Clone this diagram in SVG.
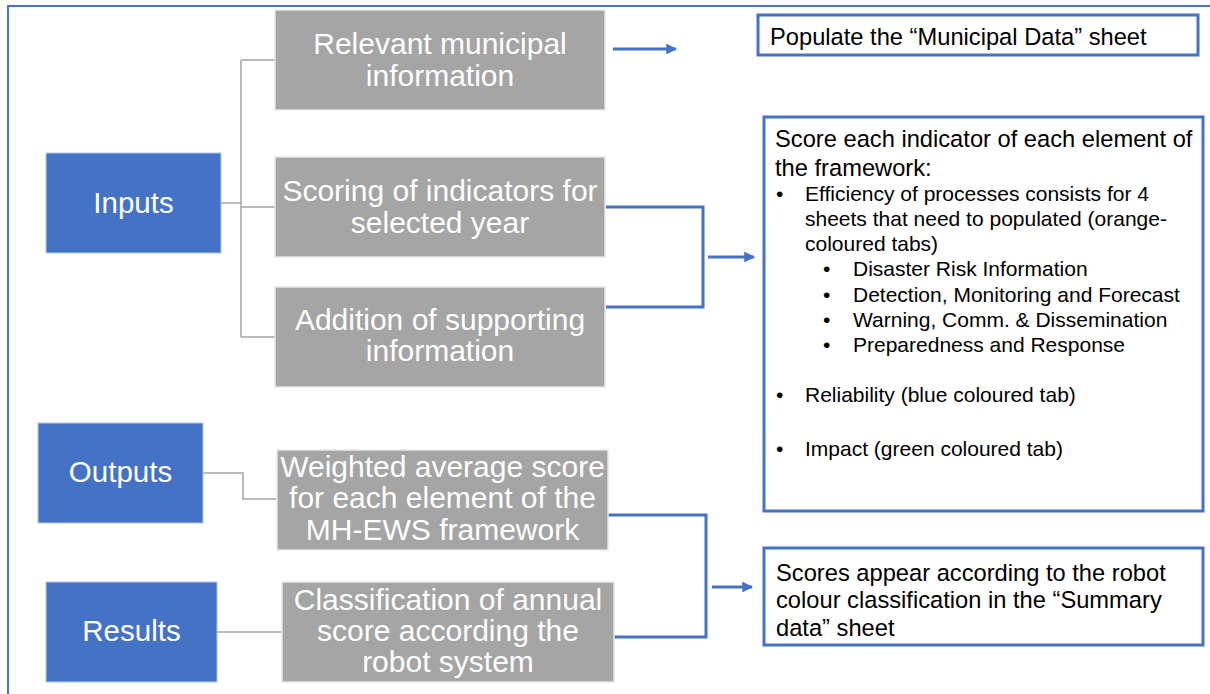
<svg xmlns="http://www.w3.org/2000/svg" width="1210" height="694" viewBox="0 0 1210 694">
<defs>
<style>
.blue{fill:#4472C4;stroke:#B4C7E7;stroke-width:1}
.gray{fill:#A5A5A5;stroke:#E7E6E6;stroke-width:1.5}
.wbox{fill:#FFFFFF;stroke:#4472C4;stroke-width:3}
.lbl{font-family:"Liberation Sans",Arial,sans-serif;fill:#FFFFFF;text-anchor:middle}
.big{font-size:29.5px}
.gt{font-size:30px}
.bt{font-family:"Liberation Sans",Arial,sans-serif;fill:#000000}
.h{font-size:23.7px}
.s{font-size:21px}
.gl{fill:none;stroke:#A5A5A5;stroke-width:1.5}
.bl{fill:none;stroke:#4472C4;stroke-width:3}
</style>
<marker id="ah" viewBox="0 0 10 10" refX="9" refY="5" markerWidth="4" markerHeight="3.6" orient="auto" markerUnits="strokeWidth">
<path d="M0,0 L10,5 L0,10 z" fill="#4472C4"/>
</marker>
</defs>
<rect width="1210" height="694" fill="#FFFFFF"/>
<rect id="frame" x="8" y="6" width="1230" height="720" fill="none" stroke="#4472C4" stroke-width="2"/>

<g id="connectors">
<path class="gl" d="M221,203 H241 M241,60 V337 M241,60 H275 M241,207 H275 M241,337 H275"/>
<path class="gl" d="M203,473 H243 V499 H277"/>
<path class="gl" d="M217,632 H282"/>
<path class="bl" d="M613,49 H676" marker-end="url(#ah)"/>
<path class="bl" d="M606,207 H703 V307 H606"/>
<path class="bl" d="M708,257 H754" marker-end="url(#ah)"/>
<path class="bl" d="M608,515 H706 V637 H614"/>
<path class="bl" d="M712,587 H752" marker-end="url(#ah)"/>
</g>

<g id="inputs">
<rect class="blue" x="46" y="153" width="175" height="100"/>
<text class="lbl big" x="133.5" y="213">Inputs</text>
</g>
<g id="outputs">
<rect class="blue" x="38" y="423" width="165" height="100"/>
<text class="lbl big" x="120.5" y="482">Outputs</text>
</g>
<g id="results">
<rect class="blue" x="46" y="582" width="171" height="100"/>
<text class="lbl big" x="131.5" y="641">Results</text>
</g>

<g id="municipal-info">
<rect class="gray" x="275" y="10" width="330" height="100"/>
<text class="lbl gt" x="440" y="54">Relevant municipal</text>
<text class="lbl gt" x="440" y="86">information</text>
</g>
<g id="scoring">
<rect class="gray" x="275" y="157" width="330" height="100"/>
<text class="lbl gt" x="440" y="201">Scoring of indicators for</text>
<text class="lbl gt" x="440" y="233">selected year</text>
</g>
<g id="supporting">
<rect class="gray" x="275" y="287" width="330" height="100"/>
<text class="lbl gt" x="440" y="330">Addition of supporting</text>
<text class="lbl gt" x="440" y="361">information</text>
</g>
<g id="weighted">
<rect class="gray" x="277" y="450" width="331" height="100"/>
<text class="lbl gt" x="442.5" y="477">Weighted average score</text>
<text class="lbl gt" x="442.5" y="508">for each element of the</text>
<text class="lbl gt" x="442.5" y="540">MH-EWS framework</text>
</g>
<g id="classification">
<rect class="gray" x="282" y="582" width="332" height="100"/>
<text class="lbl gt" x="448" y="610">Classification of annual</text>
<text class="lbl gt" x="448" y="641">score according the</text>
<text class="lbl gt" x="448" y="672">robot system</text>
</g>

<g id="populate">
<rect class="wbox" x="758" y="15" width="440" height="40"/>
<text class="bt h" x="770" y="44.5">Populate the “Municipal Data” sheet</text>
</g>

<g id="score-box">
<rect class="wbox" x="764" y="117" width="439" height="394"/>
<text class="bt h" x="775" y="146.5">Score each indicator of each element of</text>
<text class="bt h" x="775" y="175.5">the framework:</text>
<text class="bt s" x="776" y="200.5">•</text>
<text class="bt s" x="805" y="200.5">Efficiency of processes consists for 4</text>
<text class="bt s" x="805" y="225.5">sheets that need to populated (orange-</text>
<text class="bt s" x="805" y="250.5">coloured tabs)</text>
<text class="bt s" x="823" y="275.5">•</text>
<text class="bt s" x="853" y="275.5">Disaster Risk Information</text>
<text class="bt s" x="823" y="302">•</text>
<text class="bt s" x="853" y="302">Detection, Monitoring and Forecast</text>
<text class="bt s" x="823" y="327">•</text>
<text class="bt s" x="853" y="327">Warning, Comm. &amp; Dissemination</text>
<text class="bt s" x="823" y="352">•</text>
<text class="bt s" x="853" y="352">Preparedness and Response</text>
<text class="bt s" x="776" y="402">•</text>
<text class="bt s" x="805" y="402">Reliability (blue coloured tab)</text>
<text class="bt s" x="776" y="456">•</text>
<text class="bt s" x="805" y="456">Impact (green coloured tab)</text>
</g>

<g id="summary">
<rect class="wbox" x="764" y="548" width="439" height="97"/>
<text class="bt h" x="776" y="580.5">Scores appear according to the robot</text>
<text class="bt h" x="776" y="608">colour classification in the “Summary</text>
<text class="bt h" x="776" y="635.5">data” sheet</text>
</g>
</svg>
